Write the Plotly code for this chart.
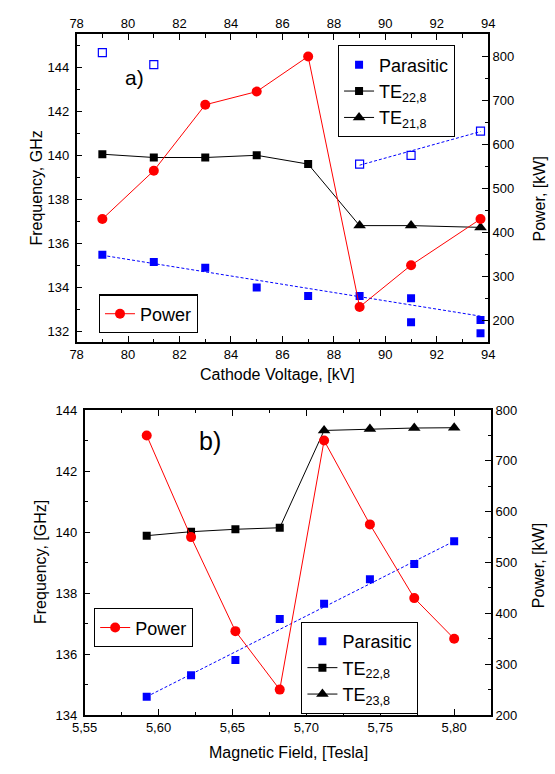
import plotly.graph_objects as go

W, H = 555, 774

# ---------------- (a) cathode-voltage scan ----------------
volt = [79, 81, 83, 85, 87, 89, 91, 93.7]
power_a = [430, 540, 690, 720, 800, 230, 325, 430]

te22_volt = [79, 81, 83, 85, 87]
te22_freq_a = [140.05, 139.9, 139.9, 140.0, 139.6]
te21_volt = [89, 91, 93.7]
te21_freq = [136.8, 136.8, 136.72]

par_volt = [79, 81, 83, 85, 87, 89, 91, 91, 93.7, 93.7]
par_freq_a = [135.48, 135.14, 134.88, 133.98, 133.6, 133.6, 133.5, 132.4, 132.5, 131.9]
par_open_volt = [79, 81, 89, 91, 93.7]
par_open_freq = [144.67, 144.13, 139.6, 140.0, 141.1]

fit_low_volt = [79, 93.7]
fit_low_freq = [135.45, 132.68]
fit_high_volt = [89, 93.7]
fit_high_freq = [139.55, 141.08]

# ---------------- (b) magnetic-field scan ----------------
field = [5.592, 5.622, 5.652, 5.682, 5.712, 5.743, 5.773, 5.800]
power_b = [750, 550, 365, 250, 740, 575, 430, 350]
te22_field = [5.592, 5.622, 5.652, 5.682]
te22_freq_b = [139.88, 140.01, 140.09, 140.14]
te23_field = [5.712, 5.743, 5.773, 5.800]
te23_freq = [143.33, 143.38, 143.41, 143.42]
par_freq_b = [134.6, 135.3, 135.8, 137.15, 137.65, 138.45, 138.95, 139.7]
fit_b_field = [5.592, 5.800]
fit_b_freq = [134.6, 139.7]

RED = "#ff0000"
BLUE = "#0000ff"
BLACK = "#000000"
FONT = "Liberation Sans, Arial, sans-serif"


def px_x(p):
    return p / W


def px_y(p):
    return 1 - p / H


fig = go.Figure()

# ----- panel (a) -----
fig.add_trace(go.Scatter(x=fit_low_volt, y=fit_low_freq, mode="lines",
                         line=dict(color=BLUE, width=1, dash="3px,2px"),
                         showlegend=False, xaxis="x", yaxis="y"))
fig.add_trace(go.Scatter(x=fit_high_volt, y=fit_high_freq, mode="lines",
                         line=dict(color=BLUE, width=1, dash="3px,2px"),
                         showlegend=False, xaxis="x", yaxis="y"))
fig.add_trace(go.Scatter(x=par_open_volt, y=par_open_freq, mode="markers",
                         marker=dict(symbol="square-open", size=8, color=BLUE,
                                     line=dict(width=1.2, color=BLUE)),
                         showlegend=False, xaxis="x", yaxis="y"))
fig.add_trace(go.Scatter(x=par_volt, y=par_freq_a, mode="markers", name="Parasitic",
                         marker=dict(symbol="square", size=8, color=BLUE),
                         legend="legend", xaxis="x", yaxis="y"))
# black mode line continues from TE22,8 into TE21,8
fig.add_trace(go.Scatter(x=[te22_volt[-1], te21_volt[0]],
                         y=[te22_freq_a[-1], te21_freq[0]], mode="lines",
                         line=dict(color=BLACK, width=1),
                         showlegend=False, xaxis="x", yaxis="y"))
fig.add_trace(go.Scatter(x=te22_volt, y=te22_freq_a, mode="lines+markers",
                         name="TE<sub>22,8</sub>",
                         line=dict(color=BLACK, width=1),
                         marker=dict(symbol="square", size=8, color=BLACK),
                         legend="legend", xaxis="x", yaxis="y"))
fig.add_trace(go.Scatter(x=te21_volt, y=te21_freq, mode="lines+markers",
                         name="TE<sub>21,8</sub>",
                         line=dict(color=BLACK, width=1),
                         marker=dict(symbol="triangle-up", size=11, color=BLACK),
                         legend="legend", xaxis="x", yaxis="y"))
# power sits on the top voltage axis / right power axis
fig.add_trace(go.Scatter(x=volt, y=power_a, mode="lines+markers", name="Power",
                         line=dict(color=RED, width=1),
                         marker=dict(symbol="circle", size=10, color=RED),
                         legend="legend2", xaxis="x3", yaxis="y2"))

# ----- panel (b) -----
fig.add_trace(go.Scatter(x=fit_b_field, y=fit_b_freq, mode="lines",
                         line=dict(color=BLUE, width=1, dash="3px,2px"),
                         showlegend=False, xaxis="x2", yaxis="y3"))
fig.add_trace(go.Scatter(x=field, y=par_freq_b, mode="markers", name="Parasitic",
                         marker=dict(symbol="square", size=8, color=BLUE),
                         legend="legend3", xaxis="x2", yaxis="y3"))
fig.add_trace(go.Scatter(x=[te22_field[-1], te23_field[0]],
                         y=[te22_freq_b[-1], te23_freq[0]], mode="lines",
                         line=dict(color=BLACK, width=1),
                         showlegend=False, xaxis="x2", yaxis="y3"))
fig.add_trace(go.Scatter(x=te22_field, y=te22_freq_b, mode="lines+markers",
                         name="TE<sub>22,8</sub>",
                         line=dict(color=BLACK, width=1),
                         marker=dict(symbol="square", size=8, color=BLACK),
                         legend="legend3", xaxis="x2", yaxis="y3"))
fig.add_trace(go.Scatter(x=te23_field, y=te23_freq, mode="lines+markers",
                         name="TE<sub>23,8</sub>",
                         line=dict(color=BLACK, width=1),
                         marker=dict(symbol="triangle-up", size=11, color=BLACK),
                         legend="legend3", xaxis="x2", yaxis="y3"))
fig.add_trace(go.Scatter(x=field, y=power_b, mode="lines+markers", name="Power",
                         line=dict(color=RED, width=1),
                         marker=dict(symbol="circle", size=10, color=RED),
                         legend="legend4", xaxis="x2", yaxis="y4"))


def axis(dtick, minor_dtick, **kw):
    base = dict(
        showline=True, linecolor=BLACK, linewidth=1.5,
        ticks="inside", ticklen=6, tickwidth=1.2, tickcolor=BLACK,
        showgrid=False, zeroline=False, dtick=dtick,
        tickfont=dict(size=13, color=BLACK, family=FONT),
        minor=dict(ticks="inside", ticklen=3.5, tickwidth=1.2,
                   tickcolor=BLACK, dtick=minor_dtick, showgrid=False),
    )
    base.update(kw)
    return base


dom_a_x = [px_x(66), px_x(493)]
dom_a_y = [px_y(341.7), px_y(28)]
dom_b_x = [px_x(74.3), px_x(496)]
dom_b_y = [px_y(722), px_y(411)]

range_volt = [78, 94]
range_field = [5.55, 5.825]


def legend_box(x, y):
    return dict(x=px_x(x), y=px_y(y), xanchor="left", yanchor="top",
                bordercolor=BLACK, borderwidth=1.2, bgcolor="white",
                font=dict(size=18, family=FONT, color=BLACK))


fig.update_layout(
    width=W, height=H,
    margin=dict(l=0, r=0, t=0, b=0),
    paper_bgcolor="white", plot_bgcolor="white",
    font=dict(family=FONT, color=BLACK),
    xaxis=axis(2, 1, domain=dom_a_x, range=range_volt, anchor="y", tick0=78),
    xaxis3=axis(2, 1, overlaying="x", side="top", range=range_volt,
                anchor="y2", tick0=78),
    yaxis=axis(2, 1, domain=dom_a_y, range=[131.5, 145.5], anchor="x",
               ticklabelstandoff=3),
    yaxis2=axis(100, 50, overlaying="y", side="right", range=[150, 850],
                anchor="x3"),
    xaxis2=axis(0.05, 0.025, domain=dom_b_x, range=range_field, anchor="y3",
                mirror="ticks", tickformat=".2f", tick0=5.55),
    yaxis3=axis(2, 1, domain=dom_b_y, range=[134, 144], anchor="x2",
                ticklabelstandoff=3),
    yaxis4=axis(100, 50, overlaying="y3", side="right", range=[200, 800],
                anchor="x2"),
    separators=",.",
    legend=legend_box(337, 39),
    legend2=legend_box(89, 293),
    legend3=legend_box(299, 627),
    legend4=legend_box(84, 613),
)


def label(text, x, y, size, angle=0):
    fig.add_annotation(text=text, x=px_x(x), y=px_y(y), xref="paper", yref="paper",
                       xanchor="center", yanchor="middle", showarrow=False,
                       textangle=angle, font=dict(size=size, family=FONT, color=BLACK))


label("a)", 126, 72, 21)
label("b)", 204, 443, 25)
label("Frequency, GHz", 24, 185, 16, -90)
label("Power, [kW]", 546, 196, 16, -90)
label("Cathode Voltage, [kV]", 274, 375, 16)
label("Frequency, [GHz]", 28, 566, 16, -90)
label("Power, [kW]", 546, 570, 16, -90)
label("Magnetic Field, [Tesla]", 286, 760, 16)

fig.write_html("out.html")
